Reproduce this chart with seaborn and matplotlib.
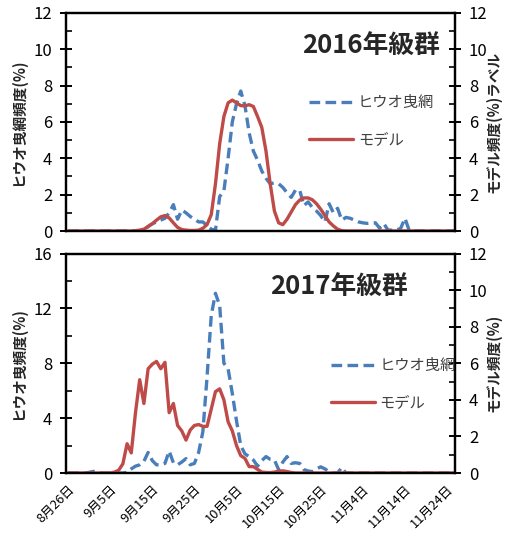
import pandas as pd
import matplotlib
matplotlib.use("Agg")
import matplotlib.pyplot as plt
import matplotlib.dates as mdates
from matplotlib.ticker import MultipleLocator
import seaborn as sns

sns.set_style("white")
plt.rcParams["font.family"] = ["Noto Sans CJK JP", "DejaVu Sans"]

# Dados diários a partir de 26/8 (93 dias)
datas = pd.date_range("2016-08-26", periods=93, freq="D")

hiuo_2016 = [
    0, 0, 0, 0, 0, 0, 0, 0, 0, 0,
    0, 0, 0, 0, 0, 0, 0, 0, 0, 0.25,
    0.4, 0.5, 0.6, 0.7, 1.0, 1.45, 0.65, 1.15, 1.0, 0.8,
    0.65, 0.5, 0.5, 0.3, 0.1, 0.05, 1.9, 2.2, 4.0, 6.0,
    7.0, 7.7, 6.9, 5.4, 4.4, 3.9, 3.3, 2.9, 2.6, 2.65,
    2.6, 2.4, 2.1, 1.85, 2.25, 2.25, 1.4, 1.6, 1.3, 1.1,
    0.85, 0.5, 1.5, 1.0, 1.25, 0.6, 0.75, 0.7, 0.6, 0.5,
    0.45, 0.42, 0.45, 0.45, 0.15, 0.4, 0.05, 0.05, 0.05, 0.15,
    0.7, 0.05, 0, 0, 0, 0, 0, 0, 0, 0,
    0, 0, 0,
]
modelo_2016 = [
    0, 0, 0, 0, 0, 0, 0, 0, 0, 0,
    0, 0, 0, 0, 0, 0, 0.02, 0.05, 0.1, 0.25,
    0.4, 0.6, 0.78, 0.85, 0.72, 0.45, 0.2, 0.08, 0.05, 0.03,
    0.03, 0.05, 0.15, 0.35, 0.9, 2.6, 4.8, 6.3, 7.05, 7.2,
    7.05, 6.9, 6.88, 6.95, 6.85, 6.3, 5.7, 4.4, 2.6, 1.1,
    0.45, 0.35, 0.65, 1.05, 1.45, 1.7, 1.82, 1.82, 1.72, 1.5,
    1.2, 0.85, 0.5, 0.28, 0.1, 0.02, 0, 0, 0, 0,
    0, 0, 0, 0, 0, 0, 0, 0, 0, 0,
    0, 0, 0, 0, 0, 0, 0, 0, 0, 0,
    0, 0, 0,
]
hiuo_2017 = [
    0, 0, 0, 0, 0, 0.05, 0.12, 0.05, 0, 0,
    0, 0, 0, 0, 0.05, 0.3, 0.5, 0.6, 0.85, 1.5,
    0.9, 0.6, 0.6, 0.7, 1.6, 0.75, 0.6, 0.8, 1.05, 0.6,
    0.7, 1.5, 3.0, 7.0, 11.5, 13.1, 12.2, 8.0, 7.6, 5.8,
    3.8, 2.0, 1.4, 1.2, 0.95, 0.5, 0.9, 1.2, 1.0, 0.95,
    0.25, 0.8, 1.2, 0.7, 0.75, 0.7, 0.25, 0.15, 0.1, 0.3,
    0.45, 0.3, 0.1, 0, 0, 0.4, 0, 0, 0, 0,
    0, 0, 0, 0, 0, 0, 0, 0, 0, 0,
    0, 0, 0, 0, 0, 0, 0, 0, 0, 0,
    0, 0, 0,
]
modelo_2017 = [
    0, 0, 0, 0, 0, 0, 0, 0, 0, 0,
    0, 0.05, 0.15, 0.5, 1.6, 1.1, 3.3, 5.1, 3.8, 5.7,
    5.95, 6.1, 5.7, 6.05, 3.3, 3.8, 2.6, 2.3, 1.8, 2.35,
    2.6, 2.65, 2.55, 2.55, 3.5, 4.45, 4.6, 4.0, 2.8, 2.3,
    1.5, 0.95, 0.8, 0.35, 0.35, 0.2, 0.05, 0.03, 0.02, 0.05,
    0.1, 0.12, 0.08, 0.03, 0, 0, 0, 0, 0, 0,
    0, 0, 0, 0, 0, 0, 0, 0, 0, 0,
    0, 0, 0, 0, 0, 0, 0, 0, 0, 0,
    0, 0, 0, 0, 0, 0, 0, 0, 0, 0,
    0, 0, 0,
]

titulos = ["2016年級群", "2017年級群"]
rotulos_esq = ["ヒウオ曳網頻度(%)", "ヒウオ曳頻度(%)"]
rotulos_dir = ["モデル頻度(%)ラベル", "モデル頻度(%)"]
nome_hiuo = "ヒウオ曳網"
nome_modelo = "モデル"

datas_ticks = datas[0:91:10]
rotulos_ticks = [f"{d.month}月{d.day}日" for d in datas_ticks]

AZUL = "#4a7ebb"
VERMELHO = "#be4b48"

fig = plt.figure(figsize=(5.17, 5.36), dpi=100)
ax_top = fig.add_axes([0.1277, 0.569, 0.7524, 0.407])
ax_bot = fig.add_axes([0.1277, 0.1175, 0.7524, 0.4095])

config = [
    (ax_top, hiuo_2016, modelo_2016, 12, 2, 1, 0.852, 0.961, (0.625, 0.504)),
    (ax_bot, hiuo_2017, modelo_2017, 16, 4, 2, 0.849, 0.879, (0.68, 0.405)),
]

x0 = mdates.date2num(datas[0])

for i, (ax, hiuo, modelo, ymax_esq, passo, menor, ty, tx, leg_pos) in enumerate(config):
    axr = ax.twinx()
    sns.lineplot(x=datas, y=hiuo, ax=ax, color=AZUL, linewidth=2.4,
                 linestyle=(0, (3.2, 1.6)), label=nome_hiuo, legend=False)
    sns.lineplot(x=datas, y=modelo, ax=axr, color=VERMELHO, linewidth=2.4,
                 label=nome_modelo, legend=False)

    ax.set_ylim(0, ymax_esq)
    axr.set_ylim(0, 12)
    ax.set_xlim(x0 - 0.5, x0 + 91.9)

    ax.yaxis.set_major_locator(MultipleLocator(passo))
    ax.yaxis.set_minor_locator(MultipleLocator(menor))
    axr.yaxis.set_major_locator(MultipleLocator(2))
    axr.yaxis.set_minor_locator(MultipleLocator(1))

    ax.set_xticks(datas_ticks)
    ax.set_xticks(datas[5:91:10], minor=True)
    if i == 1:
        ax.set_xticklabels(rotulos_ticks, rotation=45, ha="right",
                           rotation_mode="anchor", fontsize=9.3)
    else:
        ax.set_xticklabels([])

    for a in (ax, axr):
        for s in a.spines.values():
            s.set_linewidth(1.6)
            s.set_color("black")
        a.tick_params(which="major", direction="inout", length=8, width=1.4,
                      labelsize=12, colors="black")
        a.tick_params(which="minor", direction="in", length=4, width=1.4)
        a.set_xlabel("")
    ax.tick_params(axis="x", which="major", labelsize=9.3, pad=3)
    ax.tick_params(axis="y", pad=6)
    axr.tick_params(axis="y", pad=6)

    ax.set_ylabel(rotulos_esq[i], fontsize=10.5, fontweight="bold")
    axr.set_ylabel(rotulos_dir[i], fontsize=10.5, fontweight="bold")
    ax.yaxis.set_label_coords(-0.103, 0.5)
    axr.yaxis.set_label_coords(1.077, 0.5)

    axr.text(tx, ty, titulos[i], transform=ax.transAxes, ha="right",
             va="center", fontsize=18.5, fontweight="bold")

    handles = [ax.lines[0], axr.lines[0]]
    axr.legend(handles=handles, labels=[nome_hiuo, nome_modelo],
               loc="center left", bbox_to_anchor=leg_pos, frameon=False,
               fontsize=11, handlelength=2.9, handletextpad=0.3,
               labelspacing=1.3, borderaxespad=0, borderpad=0,
               labelcolor="#404040")

fig.savefig("out.png", dpi=100)
